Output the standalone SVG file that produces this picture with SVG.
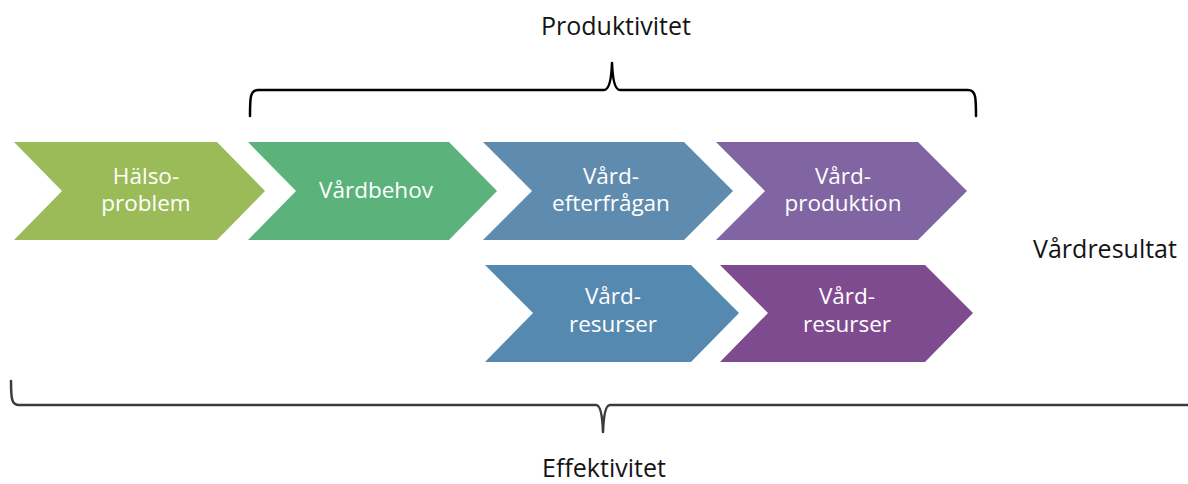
<svg xmlns="http://www.w3.org/2000/svg" width="1188" height="484" viewBox="0 0 1188 484">
  <style>
    .lbl { font-family: "Open Sans", "Liberation Sans", sans-serif; font-size: 22.5px; fill: #ffffff; text-anchor: middle; }
    .cap { font-family: "Open Sans", "Liberation Sans", sans-serif; font-size: 25px; fill: #141414; text-anchor: middle; }
    .brace { fill: none; stroke-width: 2.5; stroke-linejoin: round; stroke-linecap: round; }
  </style>

  <rect width="1188" height="484" fill="#ffffff"/>

  <!-- upper row of process chevrons -->
  <g id="halsoproblem">
    <polygon points="14,142 217,142 265,191 217,240 14,240 62,191" fill="#9bbb59"/>
    <text class="lbl" x="146" y="184">Hälso-</text>
    <text class="lbl" x="146" y="211">problem</text>
  </g>
  <g id="vardbehov">
    <polygon points="248,142 449,142 497,191 449,240 248,240 296,191" fill="#5bb37b"/>
    <text class="lbl" x="376" y="198">Vårdbehov</text>
  </g>
  <g id="vardefterfragan">
    <polygon points="483,142 684,142 733,191 684,240 483,240 532,191" fill="#5f8cae"/>
    <text class="lbl" x="611" y="184">Vård-</text>
    <text class="lbl" x="611" y="211">efterfrågan</text>
  </g>
  <g id="vardproduktion">
    <polygon points="716,142 918,142 967,191 918,240 716,240 765,191" fill="#8065a2"/>
    <text class="lbl" x="843" y="184">Vård-</text>
    <text class="lbl" x="843" y="211">produktion</text>
  </g>

  <!-- lower row of resource chevrons -->
  <g id="vardresurser-1">
    <polygon points="485,265 691,265 739,313 691,362 485,362 533,313" fill="#5689af"/>
    <text class="lbl" x="613" y="304">Vård-</text>
    <text class="lbl" x="613" y="332">resurser</text>
  </g>
  <g id="vardresurser-2">
    <polygon points="720,265 925,265 973,313 925,362 720,362 768,313" fill="#7f4b8f"/>
    <text class="lbl" x="847" y="304">Vård-</text>
    <text class="lbl" x="847" y="332">resurser</text>
  </g>

  <!-- braces -->
  <g id="braces">
    <path class="brace" stroke="#000000" d="M250,116 C250,98 250,90 258,90 L604,90 Q611,90 612,63 Q613,90 620,90 L968,90 C976,90 976,98 976,116"/>
    <path class="brace" stroke="#3c3c3c" d="M11,381 C11,400 12,405 19,405 L596,405 Q602,405 603,432 Q604,405 610,405 L1190,405"/>
  </g>

  <!-- captions -->
  <g id="produktivitet">
    <text class="cap" x="616" y="35">Produktivitet</text>
  </g>
  <g id="vardresultat">
    <text class="cap" x="1105" y="258">Vårdresultat</text>
  </g>
  <g id="effektivitet">
    <text class="cap" x="604" y="477">Effektivitet</text>
  </g>
</svg>
